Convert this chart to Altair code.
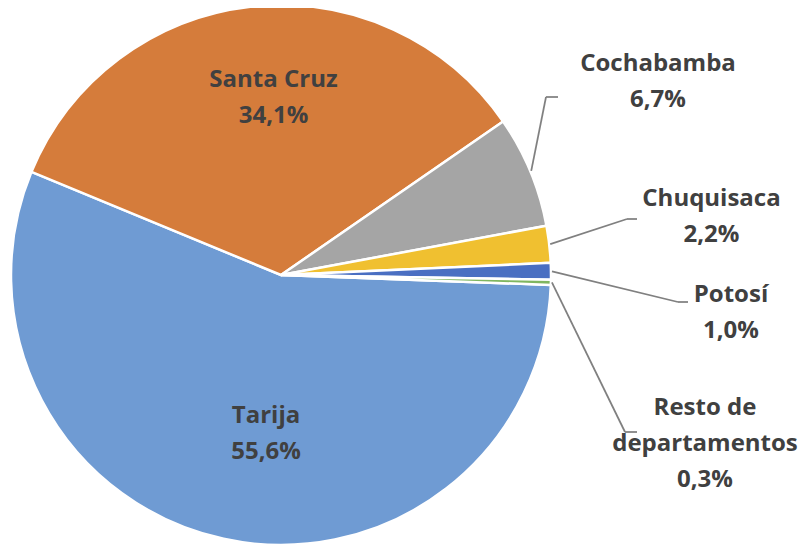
import math
import altair as alt
import pandas as pd

# ---------------- data ----------------
CATEGORIES = ["Tarija", "Santa Cruz", "Cochabamba", "Chuquisaca", "Potosí", "Resto de departamentos"]
SHARES = [55.6, 34.1, 6.7, 2.2, 1.0, 0.3]
SHARE_LABELS = ["55,6%", "34,1%", "6,7%", "2,2%", "1,0%", "0,3%"]
NAME_LINES = ["Tarija", "Santa Cruz", "Cochabamba", "Chuquisaca", "Potosí", "Resto de\ndepartamentos"]

# ---------------- styles / layout ----------------
COLORS = ["#6F9BD3", "#D57C3B", "#A5A5A5", "#F0C030", "#4A6FC2", "#80B660"]
TEXT_COLOR = "#404040"
LINE_COLOR = "#808080"
W, H = 790, 538
CX, CY = 273, 267
R = 270
START_DEG = 92.1
START = math.radians(START_DEG)

# label anchor (centre x, first baseline y) in plot pixels
LABEL_POS = {
    "Tarija": (258, 415),
    "Santa Cruz": (265.5, 79),
    "Cochabamba": (650, 63),
    "Chuquisaca": (703.5, 198),
    "Potosí": (723, 294),
    "Resto de departamentos": (697, 407),
}
# leader line elbow and end points in plot pixels
LEADERS = {
    "Cochabamba": ((538, 89), (550, 89)),
    "Chuquisaca": ((619, 211), (629, 211)),
    "Potosí": ((670, 294), (680, 294)),
    "Resto de departamentos": ((617, 424), (629, 424)),
}

pie_df = pd.DataFrame({"cat": CATEGORIES, "share": SHARES, "idx": list(range(len(CATEGORIES)))})

# text table
txt_rows = []
for cat, name, pct in zip(CATEGORIES, NAME_LINES, SHARE_LABELS):
    x, y = LABEL_POS[cat]
    txt_rows.append({"x": x, "y": y, "t": name + "\n" + pct})
txt_df = pd.DataFrame(txt_rows)

# leader lines: start at slice mid-angle on the rim (derived from data)
total = sum(SHARES)
cum = 0.0
mid = {}
for cat, v in zip(CATEGORIES, SHARES):
    a0 = START + 2 * math.pi * cum / total
    cum += v
    a1 = START + 2 * math.pi * cum / total
    mid[cat] = (a0 + a1) / 2
seg_rows = []
for cat, (elbow, end) in LEADERS.items():
    a = mid[cat]
    sx = CX + (R + 1) * math.sin(a)
    sy = CY - (R + 1) * math.cos(a)
    seg_rows.append({"x": sx, "y": sy, "x2": elbow[0], "y2": elbow[1]})
    seg_rows.append({"x": elbow[0], "y": elbow[1], "x2": end[0], "y2": end[1]})
seg_df = pd.DataFrame(seg_rows)

xs = alt.Scale(domain=[0, W], nice=False, zero=False)
ys = alt.Scale(domain=[0, H], nice=False, zero=False, reverse=True)

pie = alt.Chart(pie_df).mark_arc(outerRadius=R, stroke="white", strokeWidth=2.5).encode(
    theta=alt.Theta("share:Q", stack=True, scale=alt.Scale(range=[START, START + 2 * math.pi])),
    order=alt.Order("idx:Q"),
    color=alt.Color("cat:N", scale=alt.Scale(domain=CATEGORIES, range=COLORS), legend=None),
    x=alt.value(CX),
    y=alt.value(CY),
)

lines = alt.Chart(seg_df).mark_rule(color=LINE_COLOR, strokeWidth=1.75).encode(
    x=alt.X("x:Q", scale=xs, axis=None),
    y=alt.Y("y:Q", scale=ys, axis=None),
    x2="x2:Q",
    y2="y2:Q",
)

text = alt.Chart(txt_df).mark_text(
    font="Open Sans", fontWeight="bold", fontSize=24, color=TEXT_COLOR,
    align="center", baseline="alphabetic", lineBreak="\n", lineHeight=36,
).encode(
    x=alt.X("x:Q", scale=xs, axis=None),
    y=alt.Y("y:Q", scale=ys, axis=None),
    text="t:N",
)

chart = alt.layer(pie, lines, text).properties(
    width=W, height=H, padding=0, autosize=alt.AutoSizeParams(type="none")
).configure_view(stroke=None)
chart.save("out.html", embed_options={"renderer": "svg", "actions": False})
